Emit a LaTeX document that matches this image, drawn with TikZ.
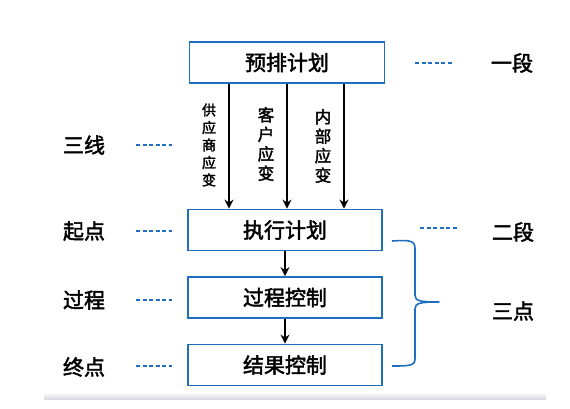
\documentclass[tikz,border=0pt]{standalone}
\usepackage{fontspec}
\newfontfamily\cjkm{Noto Sans CJK SC}[FakeBold=2.2]
\usetikzlibrary{arrows.meta}
\definecolor{boxblue}{HTML}{1F6FC0}
\begin{document}
\begin{tikzpicture}[x=1pt,y=-1pt,
  stepbox/.style={draw=boxblue,line width=1.8pt,minimum width=194pt,minimum height=41pt,inner sep=0pt,font=\cjkm\fontsize{21}{25}\selectfont},
  lbl/.style={font=\cjkm\fontsize{21}{25}\selectfont,inner sep=0pt},
  vlbl/.style={align=center,inner sep=0pt},
  dsh/.style={draw=boxblue,line width=1.2pt,dash pattern=on 4pt off 2.5pt},
  arr/.style={draw=black,line width=1.8pt,-{Stealth[length=9pt,width=9pt]}}]
\useasboundingbox (0,0) rectangle (570,408);
% bottom gray band
\shade[top color=white,bottom color=blue!12!gray!25] (44,392) rectangle (546,399);
\node[stepbox,minimum width=195pt,minimum height=41pt] (pre) at (287,62.5) {预排计划};
\node[stepbox] (exe) at (285,230) {执行计划};
\node[stepbox] (proc) at (285,297.5) {过程控制};
\node[stepbox] (res) at (285,365) {结果控制};
% top arrows
\coordinate (a1) at (229,83.5);
\coordinate (a2) at (287,83.5);
\coordinate (a3) at (344,83.5);
\draw[arr] (a1) -- (a1 |- exe.north);
\draw[arr] (a2) -- (a2 |- exe.north);
\draw[arr] (a3) -- (a3 |- exe.north);
\draw[arr] (exe.south) -- (proc.north);
\draw[arr] (proc.south) -- (res.north);
% arrow labels
\node[vlbl,font=\cjkm\fontsize{14}{17.5}\selectfont] (l1) at (209,145) {供\\应\\商\\应\\变};
\node[vlbl,font=\cjkm\fontsize{16.5}{19.5}\selectfont] (l2) at (266,144) {客\\户\\应\\变};
\node[vlbl,font=\cjkm\fontsize{16.5}{19.5}\selectfont] (l3) at (323,146) {内\\部\\应\\变};
% left labels
\node[lbl] (sx) at (84,145) {三线};
\node[lbl] (qd) at (84,231) {起点};
\node[lbl] (gc) at (84,300) {过程};
\node[lbl] (zd) at (84,367) {终点};
\foreach \n/\y in {sx/145,qd/231,gc/300,zd/366}{
  \coordinate (\n d1) at (136,\y);
  \coordinate (\n d2) at (172,\y);
  \draw[dsh] (\n d1) -- (\n d2);
}
% right labels
\node[lbl] (yd) at (512,63) {一段};
\node[lbl] (ed) at (513,232) {二段};
\node[lbl] (sd) at (513,311) {三点};
\coordinate (r1a) at (415,63); \coordinate (r1b) at (452,63);
\coordinate (r2a) at (420,228); \coordinate (r2b) at (457,228);
\draw[dsh] (r1a) -- (r1b);
\draw[dsh] (r2a) -- (r2b);
% brace
\coordinate (bt) at (392,241);
\coordinate (bb) at (392,366);
\coordinate (bm) at (439,302);
\draw[boxblue,line width=1.6pt,line join=round]
  (bt) .. controls (408,240) and (415,240) .. (415,248)
  -- (415,295) .. controls (415,301) and (420,302) .. (bm)
  .. controls (420,302) and (415,303) .. (415,309)
  -- (415,359) .. controls (415,366) and (408,366) .. (bb);
\end{tikzpicture}
\end{document}
